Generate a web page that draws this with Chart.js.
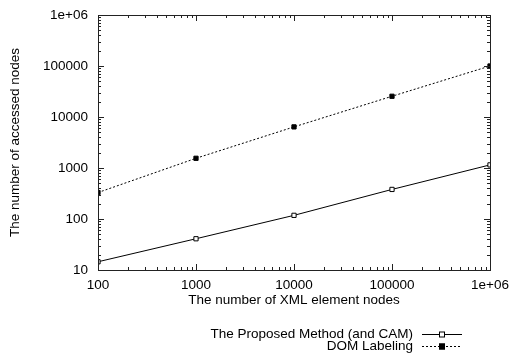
<!DOCTYPE html>
<html>
<head>
<meta charset="utf-8">
<script src="https://cdn.jsdelivr.net/npm/chart.js@4/dist/chart.umd.min.js"></script>
<style>
  html, body { margin: 0; padding: 0; background: #fff; }
  #wrap { width: 511px; height: 357px; }
</style>
</head>
<body>
<div id="wrap"><canvas id="nodeChart" width="511" height="357"></canvas></div>
<script>
var xNodes = [100, 1000, 10000, 100000, 1000000];
var proposedValues = [14.5, 41, 118, 380, 1150];
var domValues = [330, 1550, 6400, 25500, 100000];
var seriesLabels = ["The Proposed Method (and CAM)", "DOM Labeling"];
var xTicks = [100, 1000, 10000, 100000, 1000000];
var yTicks = [10, 100, 1000, 10000, 100000, 1000000];

var FONT = "Liberation Sans, Arial, Helvetica, sans-serif";

function toPoints(values) {
  var pts = [];
  for (var i = 0; i < xNodes.length; i++) pts.push({ x: xNodes[i], y: values[i] });
  return pts;
}

function tickText(v) {
  if (v >= 1000000) return "1e+06";
  return String(v);
}

// gnuplot style inward ticks on all four sides plus the top/right frame
var frameTicks = {
  id: "frameTicks",
  afterDatasetsDraw: function(chart) {
    var ctx = chart.ctx, a = chart.chartArea;
    var xs = chart.scales.x, ys = chart.scales.y;
    ctx.save();
    ctx.strokeStyle = "#222";
    ctx.lineWidth = 1;
    ctx.strokeRect(a.left + 0.5, a.top + 0.5, a.right - a.left, a.bottom - a.top);
    ctx.beginPath();
    var d, m, v, p, len;
    for (d = 100; d < 1000000; d *= 10) {
      for (m = 1; m < 10; m++) {
        v = d * m;
        p = Math.round(xs.getPixelForValue(v)) + 0.5;
        len = m === 1 ? 6 : 3;
        ctx.moveTo(p, a.bottom); ctx.lineTo(p, a.bottom - len);
        ctx.moveTo(p, a.top); ctx.lineTo(p, a.top + len);
      }
    }
    for (d = 10; d < 1000000; d *= 10) {
      for (m = 1; m < 10; m++) {
        v = d * m;
        p = Math.round(ys.getPixelForValue(v)) + 0.5;
        len = m === 1 ? 6 : 3;
        ctx.moveTo(a.left, p); ctx.lineTo(a.left + len, p);
        ctx.moveTo(a.right, p); ctx.lineTo(a.right - len, p);
      }
    }
    ctx.stroke();
    ctx.restore();
  }
};

// legend drawn the gnuplot way: right aligned text, sample to the right
var sampleLegend = {
  id: "sampleLegend",
  afterDraw: function(chart) {
    var ctx = chart.ctx;
    var rows = [334, 346];
    ctx.save();
    ctx.font = "13.5px " + FONT;
    ctx.textAlign = "right";
    ctx.textBaseline = "middle";
    chart.data.datasets.forEach(function(ds, i) {
      var y = rows[i] + 0.5;
      ctx.fillStyle = "#000";
      ctx.fillText(ds.label, 413, rows[i]);
      ctx.strokeStyle = "#000";
      ctx.lineWidth = 1;
      ctx.setLineDash(ds.borderDash || []);
      ctx.beginPath();
      ctx.moveTo(422, y); ctx.lineTo(462, y);
      ctx.stroke();
      ctx.setLineDash([]);
      ctx.fillStyle = ds.pointBackgroundColor;
      ctx.fillRect(439, y - 3, 6, 6);
      ctx.strokeRect(439.5, y - 2.5, 5, 5);
    });
    ctx.restore();
  }
};

new Chart(document.getElementById("nodeChart"), {
  type: "line",
  data: {
    datasets: [{
      label: seriesLabels[0],
      data: toPoints(proposedValues),
      borderColor: "#000",
      borderWidth: 1,
      pointStyle: "rect",
      pointRadius: 3,
      pointBorderWidth: 1,
      pointBorderColor: "#000",
      pointBackgroundColor: "#fff",
      tension: 0,
      fill: false
    }, {
      label: seriesLabels[1],
      data: toPoints(domValues),
      borderColor: "#000",
      borderWidth: 1,
      borderDash: [2, 2],
      pointStyle: "rect",
      pointRadius: 3,
      pointBorderWidth: 1,
      pointBorderColor: "#000",
      pointBackgroundColor: "#000",
      tension: 0,
      fill: false
    }]
  },
  options: {
    responsive: false,
    animation: false,
    layout: { padding: { top: 15, right: 21, left: 0, bottom: 47 } },
    plugins: { legend: { display: false }, tooltip: { enabled: false } },
    scales: {
      x: {
        type: "logarithmic",
        min: 100,
        max: 1000000,
        afterBuildTicks: function(scale) { scale.ticks = xTicks.map(function(v) { return { value: v }; }); },
        afterFit: function(scale) { scale.height = 40; scale.paddingLeft = 0; scale.paddingRight = 0; },
        grid: { display: false, drawTicks: false },
        border: { display: true, color: "#222" },
        ticks: {
          autoSkip: false, maxRotation: 0, padding: 7, color: "#000",
          font: { family: FONT, size: 13.5 },
          callback: function(v) { return tickText(v); }
        },
        title: {
          display: true, text: "The number of XML element nodes", color: "#000",
          font: { family: FONT, size: 13.5 }, padding: { top: 0, bottom: 2 }
        }
      },
      y: {
        type: "logarithmic",
        min: 10,
        max: 1000000,
        afterBuildTicks: function(scale) { scale.ticks = yTicks.map(function(v) { return { value: v }; }); },
        afterFit: function(scale) { scale.width = 98; scale.paddingTop = 0; scale.paddingBottom = 0; },
        grid: { display: false, drawTicks: false },
        border: { display: true, color: "#222" },
        ticks: {
          autoSkip: false, padding: 10, color: "#000",
          font: { family: FONT, size: 13.5 },
          callback: function(v) { return tickText(v); }
        },
        title: {
          display: true, text: "The number of accessed nodes", color: "#000",
          font: { family: FONT, size: 13.5 }, padding: { top: 7, bottom: 0 }
        }
      }
    }
  },
  plugins: [frameTicks, sampleLegend]
});
</script>
</body>
</html>
